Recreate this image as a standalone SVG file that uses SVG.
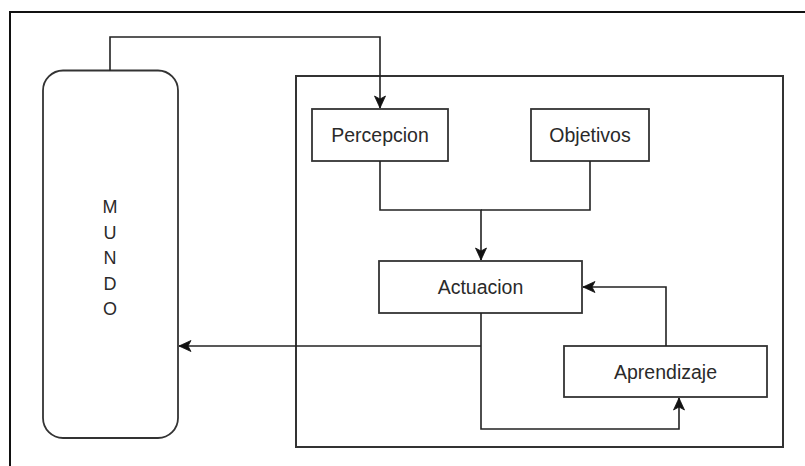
<svg xmlns="http://www.w3.org/2000/svg" width="805" height="466" viewBox="0 0 805 466">
<style>
.frame{fill:none;stroke:#111;stroke-width:2}
.box{fill:#fff;stroke:#333;stroke-width:1.8}
.cont{fill:none;stroke:#333;stroke-width:2}
.edge{fill:none;stroke:#222;stroke-width:1.6}
.lbl{font-family:"Liberation Sans",Arial,sans-serif;font-size:19.5px;fill:#2a2a2a;text-anchor:middle}
.mundo{font-family:"Liberation Sans",Arial,sans-serif;font-size:18px;fill:#2a2a2a;text-anchor:middle}
</style>
<defs>
<marker id="arr" markerUnits="userSpaceOnUse" markerWidth="14" markerHeight="12" refX="12" refY="5.5" orient="auto" overflow="visible">
<path d="M0,0 L12,5.5 L0,11 L3,5.5 Z" fill="#111" stroke="#111" stroke-width="0.8"/>
</marker>
</defs>
<rect width="805" height="466" fill="#fff"/>
<rect class="frame" x="10" y="12" width="820" height="480"/>
<g id="agente">
<rect class="cont" x="296" y="76" width="487" height="371"/>
</g>
<g id="mundo">
<rect class="box" x="43" y="70.5" width="135" height="367.5" rx="20" ry="20"/>
<text class="mundo"><tspan x="110" y="213">M</tspan><tspan x="110" y="238.5">U</tspan><tspan x="110" y="264">N</tspan><tspan x="110" y="289.5">D</tspan><tspan x="110" y="315">O</tspan></text>
</g>
<g id="percepcion">
<rect class="box" x="312" y="109" width="136" height="52"/>
<text class="lbl" x="380" y="142">Percepcion</text>
</g>
<g id="objetivos">
<rect class="box" x="531" y="109" width="118" height="52"/>
<text class="lbl" x="590" y="142">Objetivos</text>
</g>
<g id="actuacion">
<rect class="box" x="379" y="261" width="203" height="52"/>
<text class="lbl" x="480.5" y="294">Actuacion</text>
</g>
<g id="aprendizaje">
<rect class="box" x="564" y="346" width="203" height="51"/>
<text class="lbl" x="665.5" y="379">Aprendizaje</text>
</g>
<g id="connectors">
<path class="edge" d="M110,70.5 V37 H380 V108" marker-end="url(#arr)"/>
<path class="edge" d="M380,161 V210 H481 V260" marker-end="url(#arr)"/>
<path class="edge" d="M590,161 V210 H481"/>
<path class="edge" d="M666,346 V287 H583" marker-end="url(#arr)"/>
<path class="edge" d="M481,313 V429 H679 V398" marker-end="url(#arr)"/>
<path class="edge" d="M481,346 H179" marker-end="url(#arr)"/>
</g>
</svg>
